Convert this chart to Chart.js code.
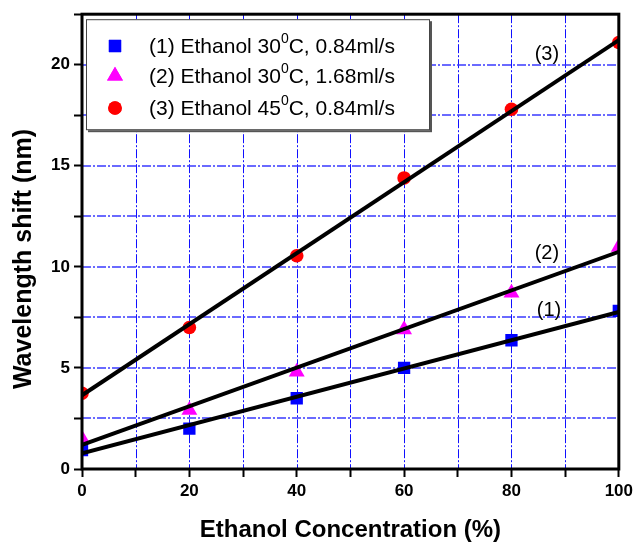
<!DOCTYPE html>
<html><head><meta charset="utf-8">
<script src="https://cdn.jsdelivr.net/npm/chart.js@4"></script>
<style>html,body{margin:0;padding:0;background:#fff}canvas{display:block}</style>
</head><body>
<canvas id="c" width="637" height="542"></canvas>
<script>
// ---- data ----
const concentrations = [0, 20, 40, 60, 80, 100];
const shift1 = [0.94, 2.0, 3.5, 5.0, 6.37, 7.82];   // (1) Ethanol 30°C, 0.84ml/s
const shift2 = [1.5, 2.91, 4.8, 6.9, 8.71, 10.98];  // (2) Ethanol 30°C, 1.68ml/s
const shift3 = [3.75, 7.0, 10.55, 14.4, 17.8, 21.1]; // (3) Ethanol 45°C, 0.84ml/s
const legendLabels = [
  ['(1) Ethanol 30', '0', 'C, 0.84ml/s'],
  ['(2) Ethanol 30', '0', 'C, 1.68ml/s'],
  ['(3) Ethanol 45', '0', 'C, 0.84ml/s']
];
const curveLabels = ['(1)', '(2)', '(3)'];
const xTickLabels = [0, 20, 40, 60, 80, 100];
const yTickLabels = [0, 5, 10, 15, 20];
const xTitle = 'Ethanol Concentration (%)';
const yTitle = 'Wavelength shift (nm)';

// ---- linear fit from the data ----
function linFit(xs, ys) {
  const n = xs.length;
  const mx = xs.reduce((a, b) => a + b, 0) / n;
  const my = ys.reduce((a, b) => a + b, 0) / n;
  let sxy = 0, sxx = 0;
  for (let i = 0; i < n; i++) { sxy += (xs[i] - mx) * (ys[i] - my); sxx += (xs[i] - mx) ** 2; }
  const m = sxy / sxx, b = my - m * mx;
  const x0 = xs[0], x1 = xs[n - 1];
  return [{x: x0, y: m * x0 + b}, {x: x1, y: m * x1 + b}];
}
const pts = ys => concentrations.map((x, i) => ({x, y: ys[i]}));

const FONT = '"Liberation Sans", Arial, sans-serif';
const markerStyles = [
  {style: 'rect', color: '#0000ff', r: 8.7},
  {style: 'triangle', color: '#ff00ff', r: 9.2},
  {style: 'circle', color: '#ff0000', r: 6.8}
];
const series = [shift1, shift2, shift3];

const datasets = [];
series.forEach((s, i) => {
  datasets.push({
    type: 'line', data: linFit(concentrations, s), borderColor: '#000', borderWidth: 4,
    pointRadius: 0, fill: false, clip: 0, order: 0
  });
});
series.forEach((s, i) => {
  const m = markerStyles[i];
  datasets.push({
    type: 'scatter', data: pts(s), pointStyle: m.style, pointRadius: m.r,
    backgroundColor: m.color, borderColor: m.color, borderWidth: 0, clip: 0, order: 1
  });
});

const gridPlugin = {
  id: 'bluegrid',
  beforeDatasetsDraw(chart) {
    const {ctx, chartArea: a, scales: {x, y}} = chart;
    ctx.save();
    ctx.lineWidth = 1;
    ctx.setLineDash([9, 2, 2, 2]);
    ctx.strokeStyle = '#1010ff';
    x.ticks.forEach(t => {
      const px = Math.round(x.getPixelForValue(t.value)) + 0.5;
      ctx.beginPath(); ctx.moveTo(px, a.top); ctx.lineTo(px, a.bottom); ctx.stroke();
    });
    ctx.strokeStyle = '#3a3aff';
    ctx.lineWidth = 1.4;
    y.ticks.forEach(t => {
      const py = Math.round(y.getPixelForValue(t.value));
      ctx.beginPath(); ctx.moveTo(a.left, py); ctx.lineTo(a.right, py); ctx.stroke();
    });
    ctx.restore();
  }
};

const decorPlugin = {
  id: 'decor',
  afterDatasetsDraw(chart) {
    const {ctx, chartArea: a, scales: {x, y}} = chart;
    ctx.save();
    // curve labels
    ctx.fillStyle = '#000';
    ctx.font = '20px ' + FONT;
    ctx.textAlign = 'center';
    ctx.textBaseline = 'middle';
    const labelPos = [[87, 7.85], [86.6, 10.67], [86.6, 20.5]];
    curveLabels.forEach((t, i) => ctx.fillText(t, x.getPixelForValue(labelPos[i][0]), y.getPixelForValue(labelPos[i][1])));
    // legend box
    const lx = a.left + 4, ly = a.top + 5, lw = 344, lh = 111;
    ctx.fillStyle = '#555';
    ctx.fillRect(lx + 2, ly + 2, lw, lh);
    ctx.fillStyle = '#fff';
    ctx.fillRect(lx, ly, lw, lh);
    ctx.strokeStyle = '#444';
    ctx.lineWidth = 1;
    ctx.strokeRect(lx + 0.5, ly + 0.5, lw - 1, lh - 1);
    const rowY = [46, 76, 108];
    legendLabels.forEach((parts, i) => {
      const m = markerStyles[i];
      ctx.fillStyle = m.color;
      Chart.helpers.drawPoint(ctx, {pointStyle: m.style, radius: m.r, borderWidth: 0}, 115, rowY[i]);
      ctx.fill();
      ctx.fillStyle = '#000';
      ctx.textAlign = 'left';
      ctx.textBaseline = 'middle';
      let tx = 149;
      ctx.font = '21px ' + FONT;
      ctx.fillText(parts[0], tx, rowY[i] + 1);
      tx += ctx.measureText(parts[0]).width;
      ctx.font = '14px ' + FONT;
      ctx.fillText(parts[1], tx, rowY[i] - 7);
      tx += ctx.measureText(parts[1]).width;
      ctx.font = '21px ' + FONT;
      ctx.fillText(parts[2], tx, rowY[i] + 1);
    });
    // frame
    ctx.strokeStyle = '#000';
    ctx.lineWidth = 3;
    ctx.strokeRect(a.left, a.top, a.right - a.left, a.bottom - a.top);
    // y-axis title
    ctx.translate(24, 259);
    ctx.rotate(-Math.PI / 2);
    ctx.fillStyle = '#000';
    ctx.font = 'bold 25px ' + FONT;
    ctx.textAlign = 'center';
    ctx.textBaseline = 'middle';
    ctx.fillText(yTitle, 0, 0);
    ctx.restore();
  }
};

const gridCommon = {
  drawOnChartArea: false, drawTicks: true, tickLength: 8, tickColor: '#000', tickWidth: 2
};

new Chart(document.getElementById('c'), {
  type: 'scatter',
  data: {datasets},
  plugins: [gridPlugin, decorPlugin],
  options: {
    responsive: false, animation: false, devicePixelRatio: 1,
    layout: {padding: {left: 0, top: 14, right: 15, bottom: 0}},
    plugins: {legend: {display: false}, tooltip: {enabled: false}},
    scales: {
      x: {
        type: 'linear', min: 0, max: 100,
        afterFit(s) { s.height = 73; },
        ticks: {
          stepSize: 10, autoSkip: false, maxRotation: 0, padding: 4, color: '#000',
          font: {family: FONT, size: 17, weight: 'bold'},
          callback: v => xTickLabels.includes(v) ? String(v) : ''
        },
        grid: gridCommon,
        border: {display: false},
        title: {display: true, text: xTitle, color: '#000', padding: {top: 0, bottom: 0},
          font: {family: FONT, size: 24, weight: 'bold', lineHeight: 1}}
      },
      y: {
        type: 'linear', min: 0, max: 22.5,
        afterFit(s) { s.width = 82; },
        ticks: {
          stepSize: 2.5, autoSkip: false, padding: 4, color: '#000',
          font: {family: FONT, size: 17, weight: 'bold'},
          callback: v => yTickLabels.includes(v) ? String(v) : ''
        },
        grid: gridCommon,
        border: {display: false},
        title: {display: false}
      }
    }
  }
});
</script>
</body></html>
